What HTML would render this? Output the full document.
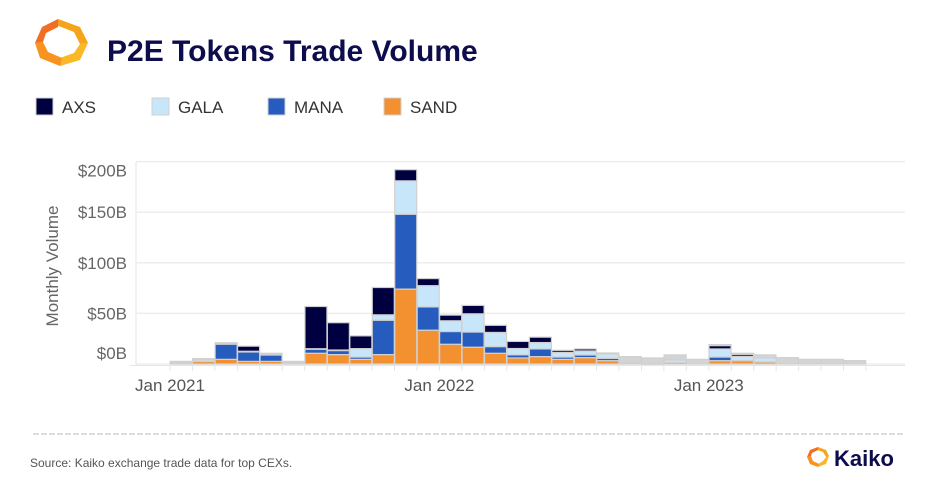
<!DOCTYPE html>
<html><head><meta charset="utf-8"><style>
body{margin:0;background:#fff;}
svg{display:block;font-family:"Liberation Sans",sans-serif;}
</style></head><body>
<svg id="chart" width="933" height="494" viewBox="0 0 933 494">
  <g>
    <polygon points="58,19 80,27 88,43 80,44 74,32 56,25" fill="#f7a41d"/>
    <polygon points="88,43 80,60 60,66 60,58 74,53 80,44" fill="#fbb826"/>
    <polygon points="60,66 40,58 35,43 43,42 48,52 62,58" fill="#f7931e"/>
    <polygon points="35,43 42,27 58,19 58,27 46,33 43,42" fill="#f26e22"/>
  </g>
  <text x="107" y="61" font-size="30" font-weight="bold" fill="#0d0d4d">P2E Tokens Trade Volume</text>
  <g id="legend"></g>
  <g id="grid"></g>
  <line x1="136" y1="162" x2="136" y2="366" stroke="#eeeeee" stroke-width="1.5"/>
  <g id="yaxis"></g>
  <text transform="translate(58,266) rotate(-90)" text-anchor="middle" font-size="17" fill="#666">Monthly Volume</text>
  <g id="bars"></g>
  <g id="xaxis"></g>
  <line x1="33" y1="434" x2="905" y2="434" stroke="#bbb" stroke-width="1" stroke-dasharray="6,2"/>
  <text x="30" y="467" font-size="12" fill="#555">Source: Kaiko exchange trade data for top CEXs.</text>
  <g>
    <polygon points="818,447 826,450 829,456 826,457 823,452 817,450" fill="#f7a41d"/>
    <polygon points="829,456 826,464 818,467 818,464 823,461 826,457" fill="#fbb826"/>
    <polygon points="818,467 810,464 807,457 811,456 813,461 819,464" fill="#f7931e"/>
    <polygon points="807,457 810,450 818,447 818,450 812,453 811,456" fill="#f26e22"/>
    <text x="834" y="466" font-size="22" font-weight="bold" fill="#0d0d4d">Kaiko</text>
  </g>
</svg>
<script>
const months = ["2021-01","2021-02","2021-03","2021-04","2021-05","2021-06","2021-07","2021-08","2021-09","2021-10","2021-11","2021-12","2022-01","2022-02","2022-03","2022-04","2022-05","2022-06","2022-07","2022-08","2022-09","2022-10","2022-11","2022-12","2023-01","2023-02","2023-03","2023-04","2023-05","2023-06","2023-07"];
const sand = [1,2.5,4.6,2.6,2.6,0.8,10.6,9.3,4.6,9.3,74,33.4,19.5,16.6,10.6,6,7.3,4.6,6.3,3.3,1,0.3,1.5,0,3.3,3.3,2,0,0,0,0];
const mana = [0.5,0.5,15,9.3,6.3,0.6,4,4,2.3,34,74,23,12.6,15,6.6,3,7.6,2.3,2.6,2.3,0.3,0,0,0,3.6,0,0,0,0,0,0];
const gala = [0.3,1.5,1,0.7,0.7,0.3,0.5,0.5,8.3,5.3,33,21,10.6,18,14,6.3,6.3,4.6,4,4.3,0.5,0,2.5,0,8,4.3,4,0,0,0,0];
const axs = [0.8,0.8,0.4,5,1,0.9,41.7,27,12.6,27,11,7,5.6,8.3,7,7,5.3,2,2,1,0.2,0,0,0,3.3,2,0,0,0,0,0];
const other = [0,0,0,0,0,0,0,0,0,0,0,0,0,0,0,0,0,0,0,0,5.3,5.7,5,4.6,1,1,3,6.3,4.6,4.6,3.3];
const yTicks = [0,50,100,150,200];
const yTickLabels = ["$0B","$50B","$100B","$150B","$200B"];
const xTickMonths = [0,12,24];
const xTickLabels = ["Jan 2021","Jan 2022","Jan 2023"];
const legendNames = ["AXS","GALA","MANA","SAND"];

const NS="http://www.w3.org/2000/svg";
function mk(tag,attrs,parent){const e=document.createElementNS(NS,tag);for(const k in attrs)e.setAttribute(k,attrs[k]);parent.appendChild(e);return e;}
const y0=364, pxPerB=50.6/50;
function yScale(v){return y0-v*pxPerB;}
const x0=170, step=22.45;
function xScale(i){return x0+step*i;}
const colors={AXS:"#000040",GALA:"#c8e6fa",MANA:"#265cbe",SAND:"#f39130",OTHER:"#d4d4d4"};

const grid=document.getElementById('grid'), ya=document.getElementById('yaxis');
yTicks.forEach((t,i)=>{
  const l=mk('line',{x1:136,x2:905,y1:yScale(t),y2:yScale(t),stroke:"#eeeeee","stroke-width":1.5},grid);
  
  
  let ty = yScale(t)+6;
  if(t===0) ty=yScale(t)-5;
  if(t===200) ty=yScale(t)+15;
  const tx=mk('text',{x:127,y:ty,"text-anchor":"end","font-size":17,fill:"#666"},ya);
  tx.textContent=yTickLabels[i];
  
  
});

const bars=document.getElementById('bars');
const series=[["SAND",sand],["MANA",mana],["GALA",gala],["AXS",axs],["OTHER",other]];
months.forEach((m,i)=>{
  let acc=0;
  const cx=xScale(i+0.5);
  series.forEach(([name,arr])=>{
    const v=arr[i]; if(!v) return;
    const yt=yScale(acc+v), yb=yScale(acc);
    const r=mk('rect',{x:cx-11,y:yt,width:22,height:Math.max(yb-yt,0.5),fill:colors[name],stroke:"#d0d0d0","stroke-width":1.2},bars);
    
    
    acc+=v;
  });
});

const xa=document.getElementById('xaxis');
const ax=mk('line',{x1:130,x2:905,y1:365.5,y2:365.5,stroke:"#e6e6e6","stroke-width":1},xa);


for(let i=0;i<=months.length;i++){
  const tk=mk('line',{x1:xScale(i),x2:xScale(i),y1:365,y2:371,stroke:"#e6e6e6","stroke-width":1},xa);
  
  
}
xTickMonths.forEach((mi,k)=>{
  const t=mk('text',{x:xScale(mi),y:391,"text-anchor":"middle","font-size":17,fill:"#555"},xa);
  t.textContent=xTickLabels[k];
  
  
});

const lg=document.getElementById('legend');
const lgX=[36,152,268,384];
legendNames.forEach((n,i)=>{
  const r=mk('rect',{x:lgX[i],y:98,width:17,height:17,fill:colors[n],stroke:"#d0d0d0","stroke-width":1},lg);
  
  
  const t=mk('text',{x:lgX[i]+26,y:113,"font-size":17,fill:"#333"},lg);
  t.textContent=n;
  
  
});
</script>
</body></html>
